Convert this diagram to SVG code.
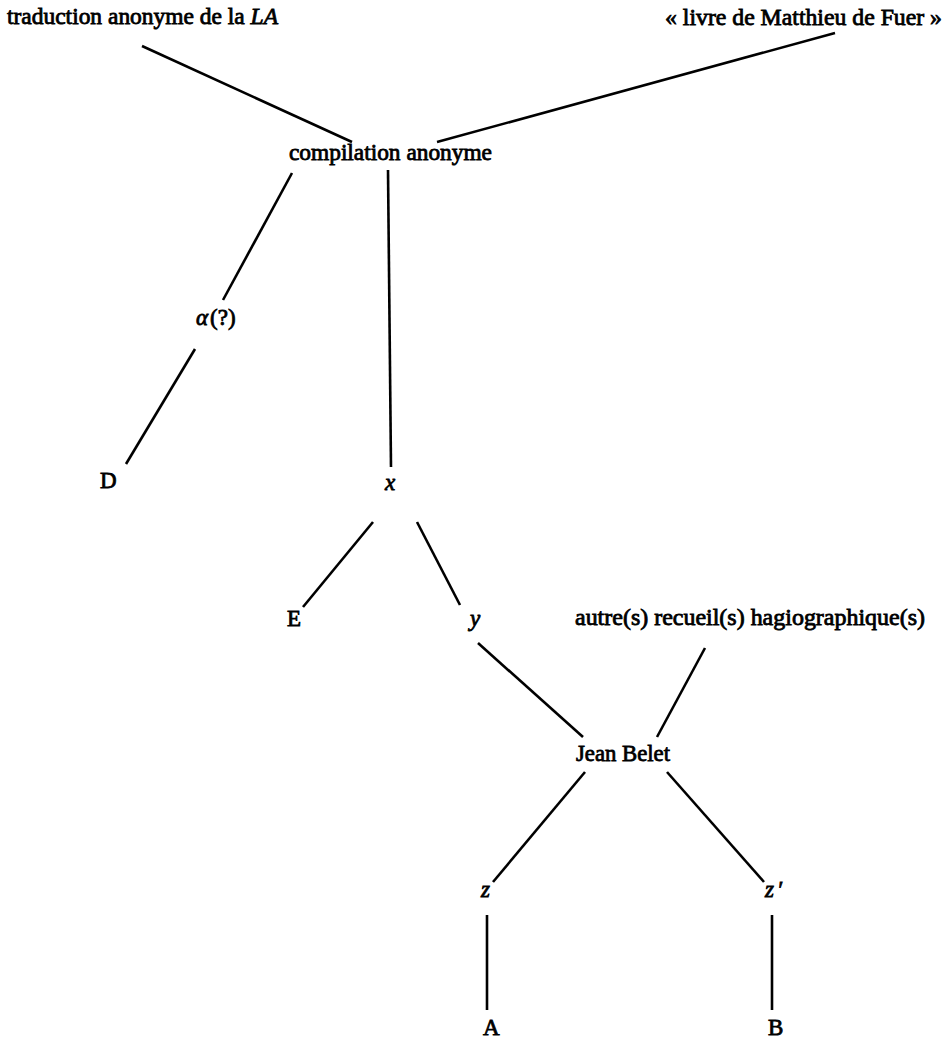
<svg xmlns="http://www.w3.org/2000/svg" width="952" height="1038" viewBox="0 0 952 1038">
  <style>
    .t { font-family: "Liberation Serif", "Times New Roman", serif; font-size: 23px; fill: #000; stroke: #000; stroke-width: 0.8; }
    .i { font-style: italic; }
    .e { stroke: #000; stroke-width: 2.6; stroke-linecap: butt; fill: none; }
  </style>
  <rect width="952" height="1038" fill="#fff"/>
  <!-- stemma edges -->
  <g id="connectors">
    <line class="e" x1="142" y1="46" x2="352" y2="142"/>
    <line class="e" x1="835" y1="33" x2="437" y2="142"/>
    <line class="e" x1="292" y1="173" x2="223" y2="300"/>
    <line class="e" x1="388" y1="170" x2="391" y2="467"/>
    <line class="e" x1="195" y1="349" x2="126" y2="464"/>
    <line class="e" x1="373" y1="522" x2="303" y2="607"/>
    <line class="e" x1="417" y1="522" x2="460" y2="605"/>
    <line class="e" x1="478" y1="643" x2="583" y2="737"/>
    <line class="e" x1="705" y1="648" x2="657" y2="737"/>
    <line class="e" x1="585" y1="772" x2="493" y2="882"/>
    <line class="e" x1="667" y1="772" x2="764" y2="882"/>
    <line class="e" x1="487" y1="915" x2="487" y2="1010"/>
    <line class="e" x1="772" y1="915" x2="772" y2="1010"/>
  </g>
  <g id="traduction"><text class="t" x="7" y="24" textLength="271" lengthAdjust="spacingAndGlyphs">traduction anonyme de la <tspan class="i">LA</tspan></text></g>
  <g id="livre"><text class="t" x="665" y="25" textLength="277" lengthAdjust="spacingAndGlyphs">« livre de Matthieu de Fuer »</text></g>
  <g id="compilation"><text class="t" x="289" y="160" textLength="203" lengthAdjust="spacingAndGlyphs">compilation anonyme</text></g>
  <g id="alpha"><text class="t" x="196" y="325"><tspan class="i">α</tspan><tspan dx="2">(?)</tspan></text></g>
  <g id="D"><text class="t" x="100" y="488">D</text></g>
  <g id="x"><text class="t i" x="385" y="490">x</text></g>
  <g id="E"><text class="t" x="287" y="626">E</text></g>
  <g id="y"><text class="t i" x="470" y="626">y</text></g>
  <g id="autres"><text class="t" x="575" y="625" textLength="350" lengthAdjust="spacingAndGlyphs">autre(s) recueil(s) hagiographique(s)</text></g>
  <g id="belet"><text class="t" x="576" y="761" textLength="94" lengthAdjust="spacingAndGlyphs">Jean Belet</text></g>
  <g id="z"><text class="t i" x="481" y="897">z</text></g>
  <g id="zprime"><text class="t i" x="765" y="897">z<tspan dx="3">′</tspan></text></g>
  <g id="A"><text class="t" x="483" y="1035">A</text></g>
  <g id="B"><text class="t" x="768" y="1035">B</text></g>
</svg>
